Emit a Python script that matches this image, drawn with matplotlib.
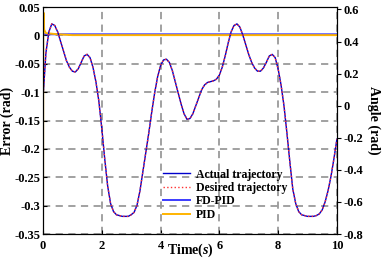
import matplotlib
matplotlib.use('Agg')
import matplotlib.pyplot as plt

plt.rcParams['font.family'] = 'Liberation Serif'
plt.rcParams['font.weight'] = 'bold'
plt.rcParams['mathtext.fontset'] = 'custom'
plt.rcParams['mathtext.rm'] = 'Liberation Serif:bold'
plt.rcParams['mathtext.it'] = 'Liberation Serif:italic:bold'

# angle trajectory (rad), every 0.1 s
t_traj = [round(0.1 * i, 1) for i in range(101)]
angle = [0.05, 0.33, 0.46, 0.51, 0.50, 0.46, 0.40, 0.34, 0.28, 0.24,
         0.215, 0.21, 0.23, 0.27, 0.31, 0.32, 0.30, 0.24, 0.15, 0.03,
         -0.14, -0.33, -0.50, -0.61, -0.66, -0.68, -0.685, -0.69, -0.69, -0.69,
         -0.68, -0.665, -0.62, -0.53, -0.41, -0.29, -0.17, -0.04, 0.08, 0.18,
         0.25, 0.285, 0.29, 0.27, 0.22, 0.15, 0.08, 0.01, -0.05, -0.085,
         -0.08, -0.05, 0.0, 0.05, 0.10, 0.13, 0.145, 0.15, 0.155, 0.165,
         0.19, 0.24, 0.31, 0.39, 0.46, 0.50, 0.51, 0.49, 0.44, 0.38,
         0.32, 0.27, 0.235, 0.215, 0.215, 0.235, 0.27, 0.31, 0.32, 0.30,
         0.23, 0.13, 0.0, -0.17, -0.35, -0.52, -0.61, -0.66, -0.68, -0.685,
         -0.69, -0.69, -0.69, -0.685, -0.675, -0.65, -0.60, -0.53, -0.44, -0.33,
         -0.21]
desired = angle

# tracking errors (rad)
t_err = [0.0, 0.01, 0.02, 0.04, 0.1, 0.5, 1.0, 10.0]
err_fdpid = [0.0, 0.002, 0.002, 0.002, 0.002, 0.002, 0.002, 0.002]
err_pid = [-0.40, 0.03, 0.04, 0.01, 0.004, 0.002, 0.0005, 0.0005]

fig = plt.figure(figsize=(3.89, 2.61), dpi=100)
ax = fig.add_axes([0.1105, 0.1034, 0.7555, 0.8696])
ax2 = ax.twinx()

l3, = ax.plot(t_err, err_fdpid, color='#3c3cff', lw=1.4, label='FD-PID')
l4, = ax.plot(t_err, err_pid, color='#ffb400', lw=1.4, label='PID')
l1, = ax2.plot(t_traj, angle, color='#0000cc', lw=1.0, label='Actual trajectory')
l2, = ax2.plot(t_traj, desired, color='#ff3030', lw=1.0, ls=':', label='Desired trajectory')

ax.set_xlim(0, 10)
ax.set_ylim(-0.35, 0.05)
ax.set_yticks([-0.35, -0.3, -0.25, -0.2, -0.15, -0.1, -0.05, 0, 0.05])
ax.set_yticklabels(['-0.35', '-0.3', '-0.25', '-0.2', '-0.15', '-0.1', '-0.05', '0', '0.05'])
ax.set_xticks([0, 2, 4, 6, 8, 10])
ax2.set_ylim(-0.8, 0.615)
ax2.set_yticks([-0.8, -0.6, -0.4, -0.2, 0, 0.2, 0.4, 0.6])
ax2.set_yticklabels(['-0.8', '-0.6', '-0.4', '-0.2', '0', '0.2', '0.4', '0.6'])

ax.grid(True, color='#9a9a9a', ls=(0, (4, 3)), lw=1.3)
ax.tick_params(axis='y', direction='in', length=3, labelsize=9, pad=2)
ax.tick_params(axis='x', direction='in', length=3, labelsize=9, pad=4)
ax2.tick_params(axis='y', direction='out', length=3, labelsize=9, pad=2)

ax.set_xlabel('Time($s$)', fontsize=10, fontweight='bold', labelpad=-7)
ax.set_ylabel('Error (rad)', fontsize=10, fontweight='bold')
ax.yaxis.set_label_coords(-0.10, 0.5)
ax2.set_ylabel('Angle (rad)', fontsize=10, fontweight='bold', rotation=270, labelpad=12)

ax2.legend(handles=[l1, l2, l3, l4], loc='upper left', bbox_to_anchor=(0.38, 0.325),
           frameon=False, fontsize=8.5, handlelength=2.3, handletextpad=0.5,
           labelspacing=0.12, borderpad=0.2)

fig.savefig('out.png', dpi=100)
